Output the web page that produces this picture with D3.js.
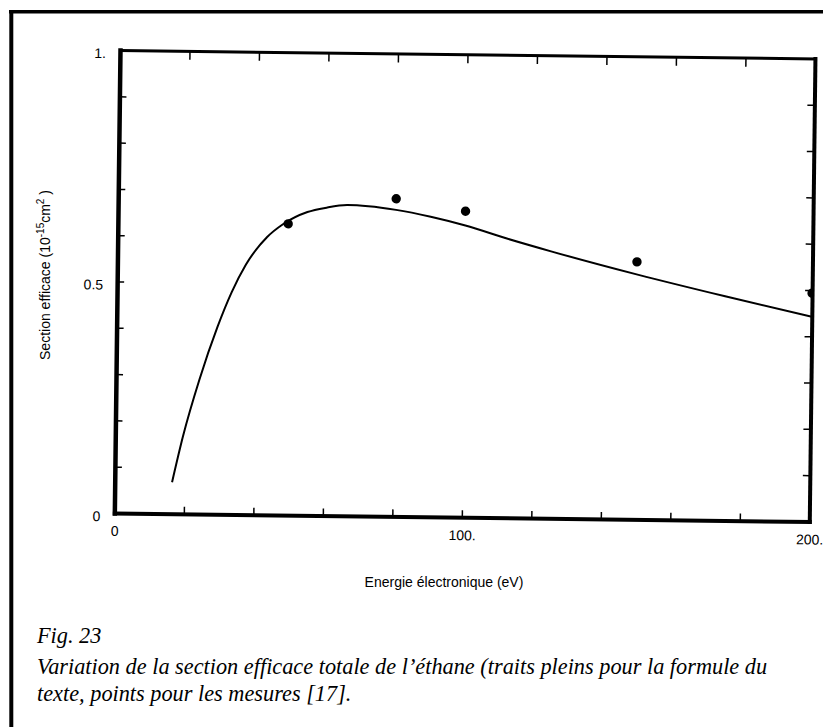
<!DOCTYPE html>
<html>
<head>
<meta charset="utf-8">
<script src="https://cdn.jsdelivr.net/npm/d3@7"></script>
<style>
  body { margin: 0; background: #fff; }
  svg { display: block; }
  .axis-label { font-family: "Liberation Sans", Arial, sans-serif; font-size: 14px; fill: #000; }
  .caption { font-family: "Liberation Serif", "Times New Roman", serif; font-style: italic; font-size: 22.3px; fill: #000; }
</style>
</head>
<body>
<svg id="chart"></svg>
<script>
const width = 823;
const height = 727;

// courbe : formule du texte
const energieCourbe = [16.5, 19.5, 24, 29, 33, 37, 43, 47.5, 54.5, 60, 66, 72, 80, 90, 100, 112, 125, 150, 175, 200];
const sectionCourbe = [0.068, 0.168, 0.290, 0.404, 0.480, 0.540, 0.600, 0.628, 0.655, 0.665, 0.671, 0.669, 0.662, 0.648, 0.630, 0.603, 0.576, 0.528, 0.484, 0.442];

// points : mesures [17]
const energieMesures = [49, 80, 100, 149.5, 200];
const sectionMesures = [0.629, 0.686, 0.661, 0.556, 0.493];

const xTicks = [20, 40, 60, 80, 100, 120, 140, 160, 180];
const yTicks = [0.1, 0.2, 0.3, 0.4, 0.5, 0.6, 0.7, 0.8, 0.9];
const xLabelValues = [0, 100, 200];
const xLabelText = ["0", "100.", "200."];
const yLabelValues = [0, 0.5, 1];
const yLabelText = ["0", "0.5", "1."];

const captionLines = [
  "Fig. 23",
  "Variation de la section efficace totale de l\u2019éthane (traits pleins pour la formule du",
  "texte, points pour les mesures [17]."
];

const plotLeft = 120, plotTop = 50, plotW = 695, plotH = 463;
const tilt = 0.7; // la figure scannée est légèrement inclinée

const svg = d3.select("#chart")
  .attr("width", width)
  .attr("height", height);

svg.append("rect")
  .attr("width", width)
  .attr("height", height)
  .attr("fill", "#fff");

// cadre extérieur (haut et gauche seulement)
svg.append("line")
  .attr("x1", 9).attr("x2", width)
  .attr("y1", 11.8).attr("y2", 11.8)
  .attr("stroke", "#000").attr("stroke-width", 3.6);
svg.append("line")
  .attr("x1", 11.3).attr("x2", 11.3)
  .attr("y1", 10).attr("y2", height)
  .attr("stroke", "#000").attr("stroke-width", 4);

const x = d3.scaleLinear().domain([0, 200]).range([0, plotW]);
const y = d3.scaleLinear().domain([0, 1]).range([plotH, 0]);

const g = svg.append("g")
  .attr("transform", `translate(${plotLeft},${plotTop}) rotate(${tilt})`);

g.append("clipPath")
  .attr("id", "plotClip")
  .append("rect")
  .attr("width", plotW)
  .attr("height", plotH);

function styleAxis(sel, domainWidth) {
  sel.select(".domain")
    .attr("stroke", "#000")
    .attr("stroke-width", domainWidth)
    .attr("stroke-linecap", "square");
  sel.selectAll(".tick line")
    .attr("stroke", "#000")
    .attr("stroke-width", 1.5);
}

g.append("g")
  .attr("transform", `translate(0,${plotH})`)
  .call(d3.axisBottom(x).tickValues(xTicks).tickSize(-7).tickSizeOuter(0).tickFormat(""))
  .call(s => styleAxis(s, 4));

g.append("g")
  .call(d3.axisTop(x).tickValues(xTicks).tickSize(-9).tickSizeOuter(0).tickFormat(""))
  .call(s => styleAxis(s, 3));

g.append("g")
  .call(d3.axisLeft(y).tickValues(yTicks).tickSize(-7).tickSizeOuter(0).tickFormat(""))
  .call(s => styleAxis(s, 4.5));

g.append("g")
  .attr("transform", `translate(${plotW},0)`)
  .call(d3.axisRight(y).tickValues(yTicks).tickSize(-7).tickSizeOuter(0).tickFormat(""))
  .call(s => styleAxis(s, 4));

// étiquettes des graduations
g.append("g")
  .attr("transform", `translate(0,${plotH})`)
  .call(d3.axisBottom(x).tickValues(xLabelValues).tickSize(0).tickPadding(13)
    .tickFormat((d, i) => xLabelText[i]))
  .call(s => s.select(".domain").remove())
  .call(s => s.selectAll("text").attr("class", "axis-label").attr("font-family", null).attr("font-size", null));

g.append("g")
  .call(d3.axisLeft(y).tickValues(yLabelValues).tickSize(0).tickPadding(14)
    .tickFormat((d, i) => yLabelText[i]))
  .call(s => s.select(".domain").remove())
  .call(s => s.selectAll("text").attr("class", "axis-label").attr("dy", "0.55em")
    .attr("font-family", null).attr("font-size", null));

const line = d3.line()
  .x((d, i) => x(energieCourbe[i]))
  .y(d => y(d))
  .curve(d3.curveMonotoneX);

const plot = g.append("g").attr("clip-path", "url(#plotClip)");

plot.append("path")
  .datum(sectionCourbe)
  .attr("d", line)
  .attr("fill", "none")
  .attr("stroke", "#000")
  .attr("stroke-width", 2);

plot.selectAll("circle")
  .data(sectionMesures)
  .enter().append("circle")
  .attr("cx", (d, i) => x(energieMesures[i]))
  .attr("cy", d => y(d))
  .attr("r", 4.7)
  .attr("fill", "#000");

// titres des axes
svg.append("text")
  .attr("class", "axis-label")
  .attr("x", 444)
  .attr("y", 587)
  .attr("text-anchor", "middle")
  .text("Energie électronique (eV)");

const yTitle = svg.append("text")
  .attr("class", "axis-label")
  .attr("transform", "translate(50,275) rotate(-90)")
  .attr("text-anchor", "middle");
yTitle.append("tspan").text("Section efficace (10");
yTitle.append("tspan").attr("dy", -6).style("font-size", "10px").text("-15");
yTitle.append("tspan").attr("dy", 6).text("cm");
yTitle.append("tspan").attr("dy", -6).style("font-size", "10px").text("2");
yTitle.append("tspan").attr("dy", 6).text(" )");

// légende de la figure
const caption = svg.append("g")
  .attr("transform", "translate(37,643)");

caption.selectAll("text")
  .data(captionLines)
  .enter().append("text")
  .attr("class", "caption")
  .attr("x", 0)
  .attr("y", (d, i) => i === 0 ? 0 : 31 + (i - 1) * 27)
  .text(d => d);
</script>
</body>
</html>
